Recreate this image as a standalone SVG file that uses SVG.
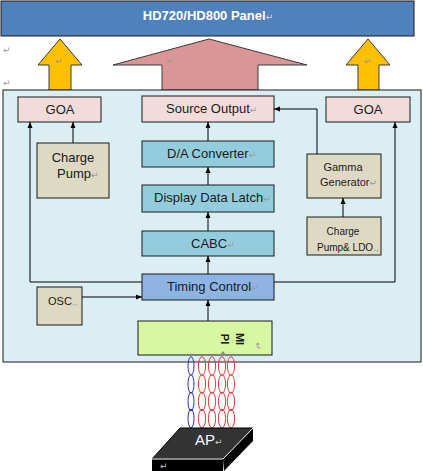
<svg xmlns="http://www.w3.org/2000/svg" width="423" height="471" viewBox="0 0 423 471">
<style>
text{font-family:"Liberation Sans",Arial,sans-serif;fill:#1a1a1a}
.box{stroke:#1a1a1a;stroke-width:1}
.pink{fill:#f2dcdb}
.teal{fill:#93cddd}
.tan{fill:#ddd9c3}
.lbl{font-size:13px}
.pm{fill:#9a9a9a;font-family:"DejaVu Sans",sans-serif;font-size:9px}
.con{fill:none;stroke:#000;stroke-width:1}
.blue{fill:none;stroke:#2f2fc8;stroke-width:1}
.red{fill:none;stroke:#e23a3a;stroke-width:1}
</style>
<defs>
<marker id="ah" viewBox="0 0 6 6" refX="6" refY="3" markerWidth="6" markerHeight="6" orient="auto" markerUnits="userSpaceOnUse">
<path d="M0,0.5 L6,3 L0,5.5 Z" fill="#000"/>
</marker>
</defs>

<g id="panel">
<rect x="1" y="1" width="413" height="35" fill="#4f81bd" stroke="#1a1a1a"/>
<text x="208" y="20" text-anchor="middle" style="fill:#fff;font-weight:bold;font-size:13px">HD720/HD800 Panel<tspan class="pm" style="fill:#b8c8e0">↵</tspan></text>
</g>

<g id="marks">
<text class="pm" x="3" y="53">↵</text>
<text class="pm" x="3" y="86">↵</text>
</g>

<g id="arrow-left">
<path d="M60,39 L82,65 L71,65 L71,90 L49,90 L49,65 L38,65 Z" fill="#ffc000" stroke="#3a3a3a"/>
<text class="pm" x="55" y="64">↵</text>
</g>
<g id="arrow-center">
<path d="M209,39 L307,65 L258,65 L258,90 L162,90 L162,65 L113,65 Z" fill="#d99694" stroke="#3a3a3a"/>
<text class="pm" x="166" y="64">↵</text>
</g>
<g id="arrow-right">
<path d="M368,39 L390,65 L379,65 L379,90 L358,90 L358,65 L346,65 Z" fill="#ffc000" stroke="#3a3a3a"/>
<text class="pm" x="364" y="64">↵</text>
</g>

<g id="driver">
<rect x="3" y="90" width="418" height="272" fill="#dbeef4" stroke="#1a1a1a"/>
</g>

<g id="goa-left">
<rect class="box pink" x="18" y="97" width="83" height="25"/>
<text class="lbl" x="60" y="114" text-anchor="middle">GOA</text>
</g>
<g id="source-output">
<rect class="box pink" x="142" y="96" width="132" height="26"/>
<text class="lbl" x="166" y="113">Source Output<tspan class="pm">↵</tspan></text>
</g>
<g id="goa-right">
<rect class="box pink" x="326" y="97" width="84" height="25"/>
<text class="lbl" x="368" y="114" text-anchor="middle">GOA</text>
</g>
<g id="charge-pump">
<rect class="box tan" x="37" y="143" width="72" height="55"/>
<text class="lbl" x="73" y="162" text-anchor="middle">Charge</text>
<text class="lbl" x="57" y="178">Pump<tspan class="pm">↵</tspan></text>
</g>
<g id="da-converter">
<rect class="box teal" x="142" y="141" width="132" height="26"/>
<text class="lbl" x="167" y="158">D/A Converter<tspan class="pm">↵</tspan></text>
</g>
<g id="display-data-latch">
<rect class="box teal" x="142" y="185" width="132" height="27"/>
<text class="lbl" x="154" y="202">Display Data Latch<tspan class="pm">↵</tspan></text>
</g>
<g id="cabc">
<rect class="box teal" x="142" y="231" width="132" height="25"/>
<text class="lbl" x="191" y="248">CABC<tspan class="pm">↵</tspan></text>
</g>
<g id="timing-control">
<rect class="box" x="142" y="274" width="132" height="26" fill="#8eb4e3"/>
<text class="lbl" x="167" y="291">Timing Control<tspan class="pm">↵</tspan></text>
</g>
<g id="gamma-generator">
<rect class="box tan" x="307" y="154" width="74" height="44"/>
<text x="343" y="171" text-anchor="middle" font-size="11">Gamma</text>
<text x="320" y="186" font-size="11">Generator<tspan class="pm">↵</tspan></text>
</g>
<g id="charge-pump-ldo">
<rect class="box tan" x="307" y="217" width="74" height="38"/>
<text x="343" y="235" text-anchor="middle" font-size="10">Charge</text>
<text x="317" y="251" font-size="10">Pump&amp; LDO<tspan class="pm">.,</tspan></text>
</g>
<g id="osc">
<rect class="box tan" x="37" y="287" width="45" height="38"/>
<text x="48" y="305" font-size="11">OSC<tspan class="pm">.,</tspan></text>
</g>
<g id="mipi">
<rect class="box" x="138" y="321" width="134" height="34" fill="#d7f7a3"/>
<text x="240" y="339" text-anchor="middle" dominant-baseline="central" font-size="11" font-weight="bold" fill="#2a3a10" transform="rotate(90 240 339)">MI</text>
<text x="225" y="339" text-anchor="middle" dominant-baseline="central" font-size="11" font-weight="bold" fill="#2a3a10" transform="rotate(90 225 339)">PI</text>
<text class="pm" x="258" y="346" text-anchor="middle" dominant-baseline="central" transform="rotate(90 258 346)">↵</text>
<path d="M220,355 L226,355 L223,351 Z" fill="#888"/>
</g>

<g id="connectors">
<path class="con" d="M142,282 H30 V122" marker-end="url(#ah)"/>
<path class="con" d="M274,282 H395 V122" marker-end="url(#ah)"/>
<path class="con" d="M73,143 V122" marker-end="url(#ah)"/>
<path class="con" d="M317,154 V109 H274" marker-end="url(#ah)"/>
<path class="con" d="M343,217 V198" marker-end="url(#ah)"/>
<path class="con" d="M208,141 V122" marker-end="url(#ah)"/>
<path class="con" d="M208,185 V167" marker-end="url(#ah)"/>
<path class="con" d="M208,231 V212" marker-end="url(#ah)"/>
<path class="con" d="M208,274 V256" marker-end="url(#ah)"/>
<path class="con" d="M208,321 V300" marker-end="url(#ah)"/>
<path class="con" d="M82,297 H142" marker-end="url(#ah)"/>
</g>

<g id="link">
<ellipse class="blue" cx="191" cy="366" rx="3" ry="9.3"/>
<ellipse class="blue" cx="191" cy="384" rx="3" ry="9.3"/>
<ellipse class="blue" cx="191" cy="401.5" rx="3" ry="9.3"/>
<ellipse class="blue" cx="191" cy="418.5" rx="3" ry="9.3"/>
<ellipse class="red" cx="202" cy="366" rx="3.6" ry="9.3"/>
<ellipse class="red" cx="202" cy="384" rx="3.6" ry="9.3"/>
<ellipse class="red" cx="202" cy="401.5" rx="3.6" ry="9.3"/>
<ellipse class="red" cx="202" cy="418.5" rx="3.6" ry="9.3"/>
<ellipse class="red" cx="212" cy="366" rx="3.6" ry="9.3"/>
<ellipse class="red" cx="212" cy="384" rx="3.6" ry="9.3"/>
<ellipse class="red" cx="212" cy="401.5" rx="3.6" ry="9.3"/>
<ellipse class="red" cx="212" cy="418.5" rx="3.6" ry="9.3"/>
<ellipse class="red" cx="222" cy="366" rx="3.6" ry="9.3"/>
<ellipse class="red" cx="222" cy="384" rx="3.6" ry="9.3"/>
<ellipse class="red" cx="222" cy="401.5" rx="3.6" ry="9.3"/>
<ellipse class="red" cx="222" cy="418.5" rx="3.6" ry="9.3"/>
<ellipse class="red" cx="231" cy="366" rx="3.6" ry="9.3"/>
<ellipse class="red" cx="231" cy="384" rx="3.6" ry="9.3"/>
<ellipse class="red" cx="231" cy="401.5" rx="3.6" ry="9.3"/>
<ellipse class="red" cx="231" cy="418.5" rx="3.6" ry="9.3"/>
</g>

<g id="ap">
<path d="M180,428 L253,428 L223,459 L152,459 Z" fill="#333" stroke="#000"/>
<path d="M152,459 L223,459 L223,471 L152,471 Z" fill="#000"/>
<path d="M223,459 L253,428 L253,441 L224,471 Z" fill="#000"/>
<path d="M152,459 L223,459 L253,428" fill="none" stroke="#fff" stroke-width="1"/>
<text x="195" y="445" style="fill:#fff;font-size:15px">AP<tspan class="pm" style="fill:#ccc">↵</tspan></text>
<text class="pm" x="160" y="469" style="fill:#ccc">↵</text>
</g>
</svg>
